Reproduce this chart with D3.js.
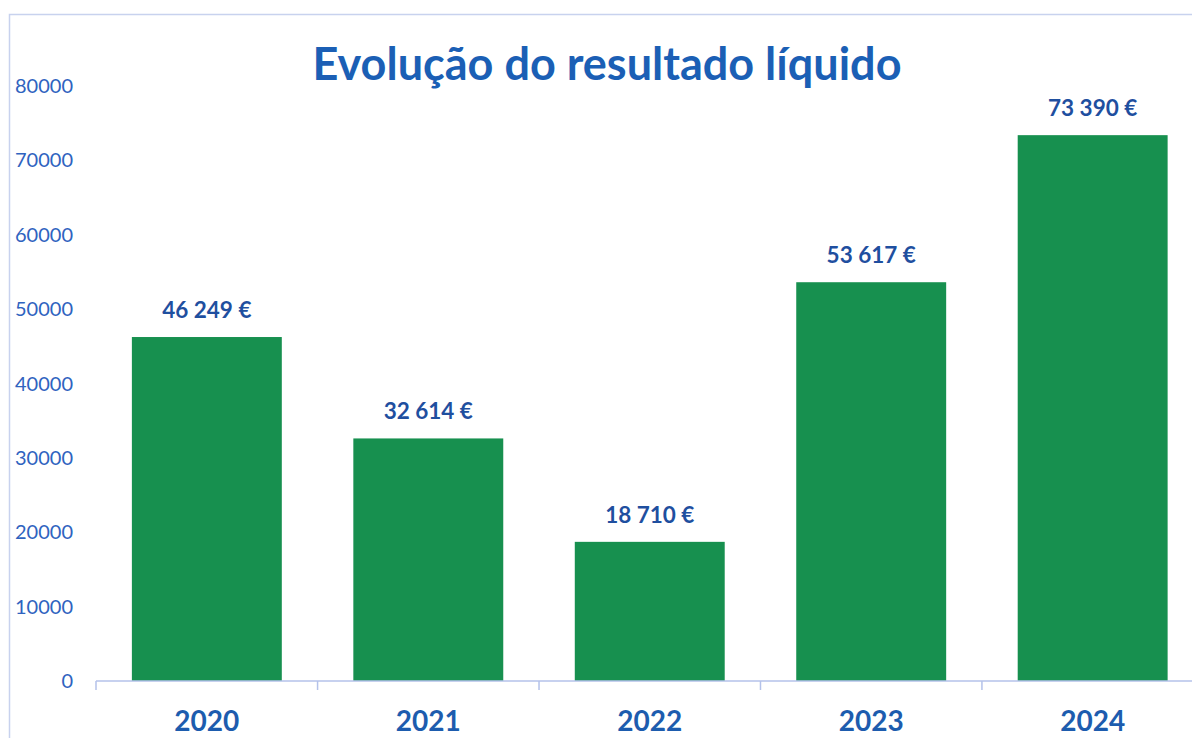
<!DOCTYPE html>
<html>
<head>
  <title>Evolução do resultado líquido</title>
  <script src="https://d3js.org/d3.v7.min.js"></script>
  <style>
    body { margin: 0; background: #fff; }
    svg { display: block; }
  </style>
</head>
<body>
  <div id="chart"></div>
  <script>
    // data
    const years = ["2020", "2021", "2022", "2023", "2024"];
    const values = [46249, 32614, 18710, 53617, 73390];
    const yTicks = [0, 10000, 20000, 30000, 40000, 50000, 60000, 70000, 80000];

    const width = 1192, height = 738;
    const fontFamily = "Lato, 'Open Sans', sans-serif";

    const svg = d3.select("#chart")
      .append("svg")
      .attr("width", width)
      .attr("height", height);

    // light frame around the chart area
    svg.append("path")
      .attr("d", "M9.5,738 V14.5 H1192")
      .attr("fill", "none")
      .attr("stroke", "#c8d2ee")
      .attr("stroke-width", 1.5);

    const xScale = d3.scaleBand()
      .domain(years)
      .range([96, 96 + 5 * 221.5])
      .paddingInner(0.323)
      .paddingOuter(0.162);

    const yScale = d3.scaleLinear()
      .domain([0, 80000])
      .range([681, 86]);

    // bars
    svg.selectAll(".bar")
      .data(years)
      .enter()
      .append("rect")
      .attr("class", "bar")
      .attr("x", d => xScale(d))
      .attr("y", (d, i) => yScale(values[i]))
      .attr("width", xScale.bandwidth())
      .attr("height", (d, i) => yScale(0) - yScale(values[i]))
      .style("fill", "#17904f");

    // x axis line with ticks between categories
    const xAxis = svg.append("g").attr("transform", "translate(0,681)");
    xAxis.append("line")
      .attr("x1", 96).attr("x2", width)
      .attr("stroke", "#b4c2ea").attr("stroke-width", 1.5);
    const tickXs = years.map(d => xScale(d) - xScale.step() * xScale.paddingInner() / 2);
    tickXs[0] = xScale.range()[0];
    xAxis.selectAll(".tick")
      .data(tickXs)
      .enter()
      .append("line")
      .attr("x1", d => d).attr("x2", d => d)
      .attr("y1", 0).attr("y2", 9)
      .attr("stroke", "#b4c2ea").attr("stroke-width", 1.5);

    // year labels
    svg.selectAll(".year")
      .data(years)
      .enter()
      .append("text")
      .attr("x", d => xScale(d) + xScale.bandwidth() / 2)
      .attr("y", 731)
      .attr("text-anchor", "middle")
      .style("font-family", fontFamily)
      .style("font-weight", "bold")
      .style("font-size", "28px")
      .style("fill", "#1d5cae")
      .text(d => d);

    // y tick labels (no axis line)
    svg.selectAll(".ytick")
      .data(yTicks)
      .enter()
      .append("text")
      .attr("x", 73)
      .attr("y", d => yScale(d))
      .attr("dy", "0.35em")
      .attr("text-anchor", "end")
      .style("font-family", fontFamily)
      .style("font-size", "20px")
      .style("fill", "#2f63c0")
      .text(d => d);

    // value labels
    const fmt = v => d3.format(",")(v).replace(",", " ") + " €";
    svg.selectAll(".val")
      .data(years)
      .enter()
      .append("text")
      .attr("x", d => xScale(d) + xScale.bandwidth() / 2)
      .attr("y", (d, i) => yScale(values[i]) - 19)
      .attr("text-anchor", "middle")
      .style("font-family", fontFamily)
      .style("font-weight", "bold")
      .style("font-size", "22.5px")
      .style("fill", "#1f4f9f")
      .text((d, i) => fmt(values[i]));

    // title
    svg.append("text")
      .attr("x", 607)
      .attr("y", 80)
      .attr("text-anchor", "middle")
      .style("font-family", fontFamily)
      .style("font-weight", "bold")
      .style("font-size", "45px")
      .style("fill", "#1b5fb5")
      .text("Evolução do resultado líquido");
  </script>
</body>
</html>
